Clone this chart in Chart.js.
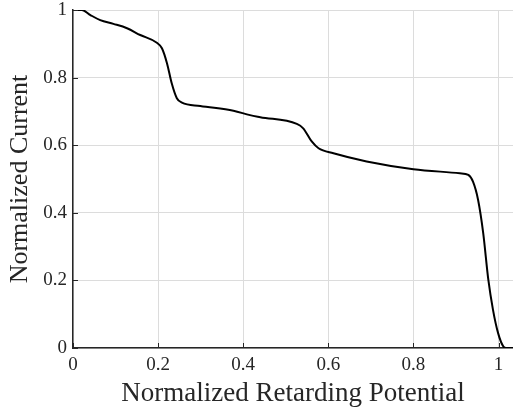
<!DOCTYPE html>
<html>
<head>
<meta charset="utf-8">
<script src="https://cdn.jsdelivr.net/npm/chart.js@4/dist/chart.umd.min.js"></script>
<style>
    html, body { margin: 0; padding: 0; background: #fff; }
    #wrap { width: 513px; height: 414px; }
</style>
</head>
<body>
<div id="wrap"><canvas id="chart"></canvas></div>
<script>
// Curve
const potential = [0, 0.021, 0.041, 0.064, 0.095, 0.127, 0.158, 0.197, 0.209, 0.221, 0.232, 0.244, 0.256, 0.299, 0.377, 0.416, 0.44, 0.526, 0.541, 0.561, 0.577, 0.612, 0.69, 0.8, 0.909, 0.929, 0.94, 0.952, 0.964, 0.976, 0.987, 0.999, 1.011, 1.018, 1.034];
const current = [1, 1, 0.985, 0.97, 0.959, 0.946, 0.926, 0.903, 0.887, 0.842, 0.783, 0.739, 0.726, 0.716, 0.702, 0.689, 0.683, 0.663, 0.65, 0.611, 0.591, 0.576, 0.552, 0.529, 0.517, 0.512, 0.492, 0.438, 0.34, 0.202, 0.113, 0.044, 0.005, 0, 0];

const xTitle = 'Normalized Retarding Potential';
const yTitle = 'Normalized Current';
const xRange = [0, 1.034];
const yRange = [0, 1];

const serif = '"Liberation Serif", "DejaVu Serif", serif';
const axisColor = '#262626';

// MATLAB style ticks pointing into the plot
const innerTicks = {
    id: 'innerTicks',
    afterDraw(chart) {
        const ctx = chart.ctx;
        const area = chart.chartArea;
        const xs = chart.scales.x, ys = chart.scales.y;
        ctx.save();
        ctx.strokeStyle = axisColor;
        ctx.lineWidth = 1;
        xs.ticks.forEach(t => {
            const px = Math.round(xs.getPixelForValue(t.value)) + 0.5;
            ctx.beginPath();
            ctx.moveTo(px, area.bottom);
            ctx.lineTo(px, area.bottom - 5);
            ctx.stroke();
        });
        ys.ticks.forEach(t => {
            const py = Math.round(ys.getPixelForValue(t.value)) + 0.5;
            ctx.beginPath();
            ctx.moveTo(area.left, py);
            ctx.lineTo(area.left + 5, py);
            ctx.stroke();
        });
        ctx.restore();
    }
};

const points = potential.map((x, i) => ({ x: x, y: current[i] }));

new Chart(document.getElementById('chart'), {
    type: 'scatter',
    data: {
        datasets: [{
            data: points,
            showLine: true,
            borderColor: '#000',
            borderWidth: 2,
            pointRadius: 0,
            cubicInterpolationMode: 'monotone',
            fill: false,
        }],
    },
    options: {
        responsive: true,
        maintainAspectRatio: false,
        animation: false,
        layout: { padding: { top: 10, right: 0, left: 0, bottom: 0 } },
        plugins: { legend: { display: false }, tooltip: { enabled: false } },
        scales: {
            x: {
                type: 'linear',
                min: xRange[0],
                max: xRange[1],
                afterFit: (s) => { s.height = 66; s.paddingLeft = 0; s.paddingRight = 0; },
                ticks: {
                    stepSize: 0.2,
                    includeBounds: false,
                    color: axisColor,
                    padding: 6,
                    maxRotation: 0,
                    font: { family: serif, size: 19 },
                    callback: (v) => String(Math.round(v * 10) / 10),
                },
                grid: { color: '#dcdcdc', drawTicks: false },
                border: { color: axisColor, width: 1.5 },
                title: {
                    display: true,
                    text: xTitle,
                    color: axisColor,
                    font: { family: serif, size: 27, lineHeight: 1.2 },
                    padding: { top: 0, bottom: 4 },
                },
            },
            y: {
                min: yRange[0],
                max: yRange[1],
                afterFit: (s) => { s.width = 73; s.paddingTop = 0; s.paddingBottom = 0; },
                ticks: {
                    stepSize: 0.2,
                    color: axisColor,
                    padding: 6,
                    font: { family: serif, size: 19 },
                    callback: (v) => String(Math.round(v * 10) / 10),
                },
                grid: { color: '#dcdcdc', drawTicks: false },
                border: { color: axisColor, width: 1.5 },
                title: {
                    display: true,
                    text: yTitle,
                    color: axisColor,
                    font: { family: serif, size: 26, lineHeight: 1.2 },
                    padding: { top: 5, bottom: 0 },
                },
            },
        },
    },
    plugins: [innerTicks],
});
</script>
</body>
</html>
